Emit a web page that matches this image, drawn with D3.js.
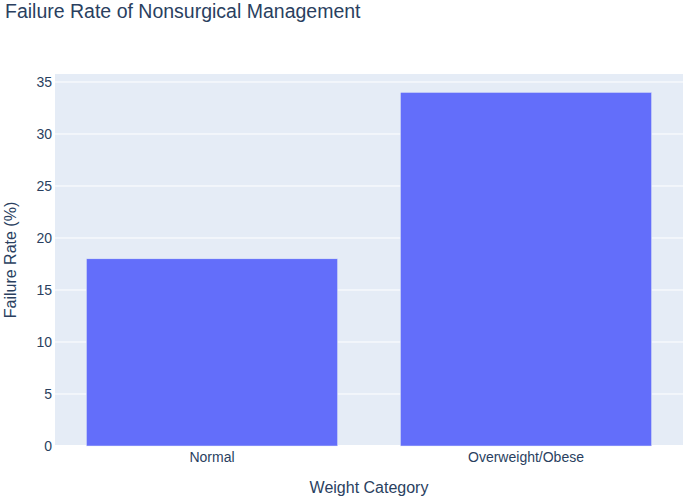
<!DOCTYPE html>
<html>
<head>
<meta charset="utf-8">
<script src="https://cdn.jsdelivr.net/npm/d3@7"></script>
<style>
  body { margin: 0; background: #fff; }
  text { font-family: "Liberation Sans", Arial, sans-serif; fill: #2a3f5f; }
</style>
</head>
<body>
<div id="chart"></div>
<script>
// Data
var categories = ["Normal", "Overweight/Obese"],
  failureRates = [18, 34],
  yTicks = [0, 5, 10, 15, 20, 25, 30, 35];

// Placement
var width = 685,
  height = 499,
  m = {top: 74, right: 2, bottom: 53, left: 55},
  plotW = width - m.left - m.right,
  plotH = height - m.top - m.bottom;

var svg = d3.select("#chart")
  .append("svg")
  .attr("width", width)
  .attr("height", height);

var x = d3.scaleBand()
  .domain(categories)
  .range([0, plotW])
  .paddingInner(0.2)
  .paddingOuter(0.1);

var y = d3.scaleLinear()
  .domain([0, 34 * 1.052])
  .range([plotH, 0]);

var plot = svg.append("g")
  .attr("transform", "translate(" + m.left + "," + m.top + ")");

// background
plot.append("rect")
  .attr("width", plotW)
  .attr("height", plotH)
  .attr("fill", "#e5ecf6");

// grid lines
plot.append("g").selectAll("line")
  .data(yTicks)
  .enter().append("line")
  .attr("x1", 0)
  .attr("x2", plotW)
  .attr("y1", function(d) { return y(d); })
  .attr("y2", function(d) { return y(d); })
  .attr("stroke", "#fff")
  .attr("stroke-width", function(d) { return d === 0 ? 2 : 1; });

// bars
plot.append("g").selectAll("rect")
  .data(categories)
  .enter().append("rect")
  .attr("x", function(d) { return x(d); })
  .attr("width", x.bandwidth())
  .attr("y", function(d, i) { return y(failureRates[i]); })
  .attr("height", function(d, i) { return y(0) - y(failureRates[i]); })
  .attr("fill", "#636efa")
  .attr("stroke", "#e5ecf6")
  .attr("stroke-width", 0.5);

// y axis
var yAxis = d3.axisLeft(y).tickValues(yTicks).tickSize(0).tickPadding(3);
plot.append("g")
  .call(yAxis)
  .call(function(g) { g.select(".domain").remove(); })
  .selectAll("text")
  .attr("font-size", 14)
  .style("font-family", "'Liberation Sans', Arial, sans-serif")
  .attr("fill", "#2a3f5f");

// x axis
var xAxis = d3.axisBottom(x).tickSize(0).tickPadding(6);
plot.append("g")
  .attr("transform", "translate(0," + plotH + ")")
  .call(xAxis)
  .call(function(g) { g.select(".domain").remove(); })
  .selectAll("text")
  .attr("font-size", 14)
  .style("font-family", "'Liberation Sans', Arial, sans-serif")
  .attr("fill", "#2a3f5f");

// titles
svg.append("text")
  .attr("x", 5)
  .attr("y", 18)
  .attr("font-size", 19.5)
  .text("Failure Rate of Nonsurgical Management");

svg.append("text")
  .attr("x", m.left + plotW / 2)
  .attr("y", 493)
  .attr("text-anchor", "middle")
  .attr("font-size", 16)
  .text("Weight Category");

svg.append("text")
  .attr("transform", "translate(16," + (m.top + plotH / 2) + ") rotate(-90)")
  .attr("text-anchor", "middle")
  .attr("font-size", 16)
  .text("Failure Rate (%)");
</script>
</body>
</html>
